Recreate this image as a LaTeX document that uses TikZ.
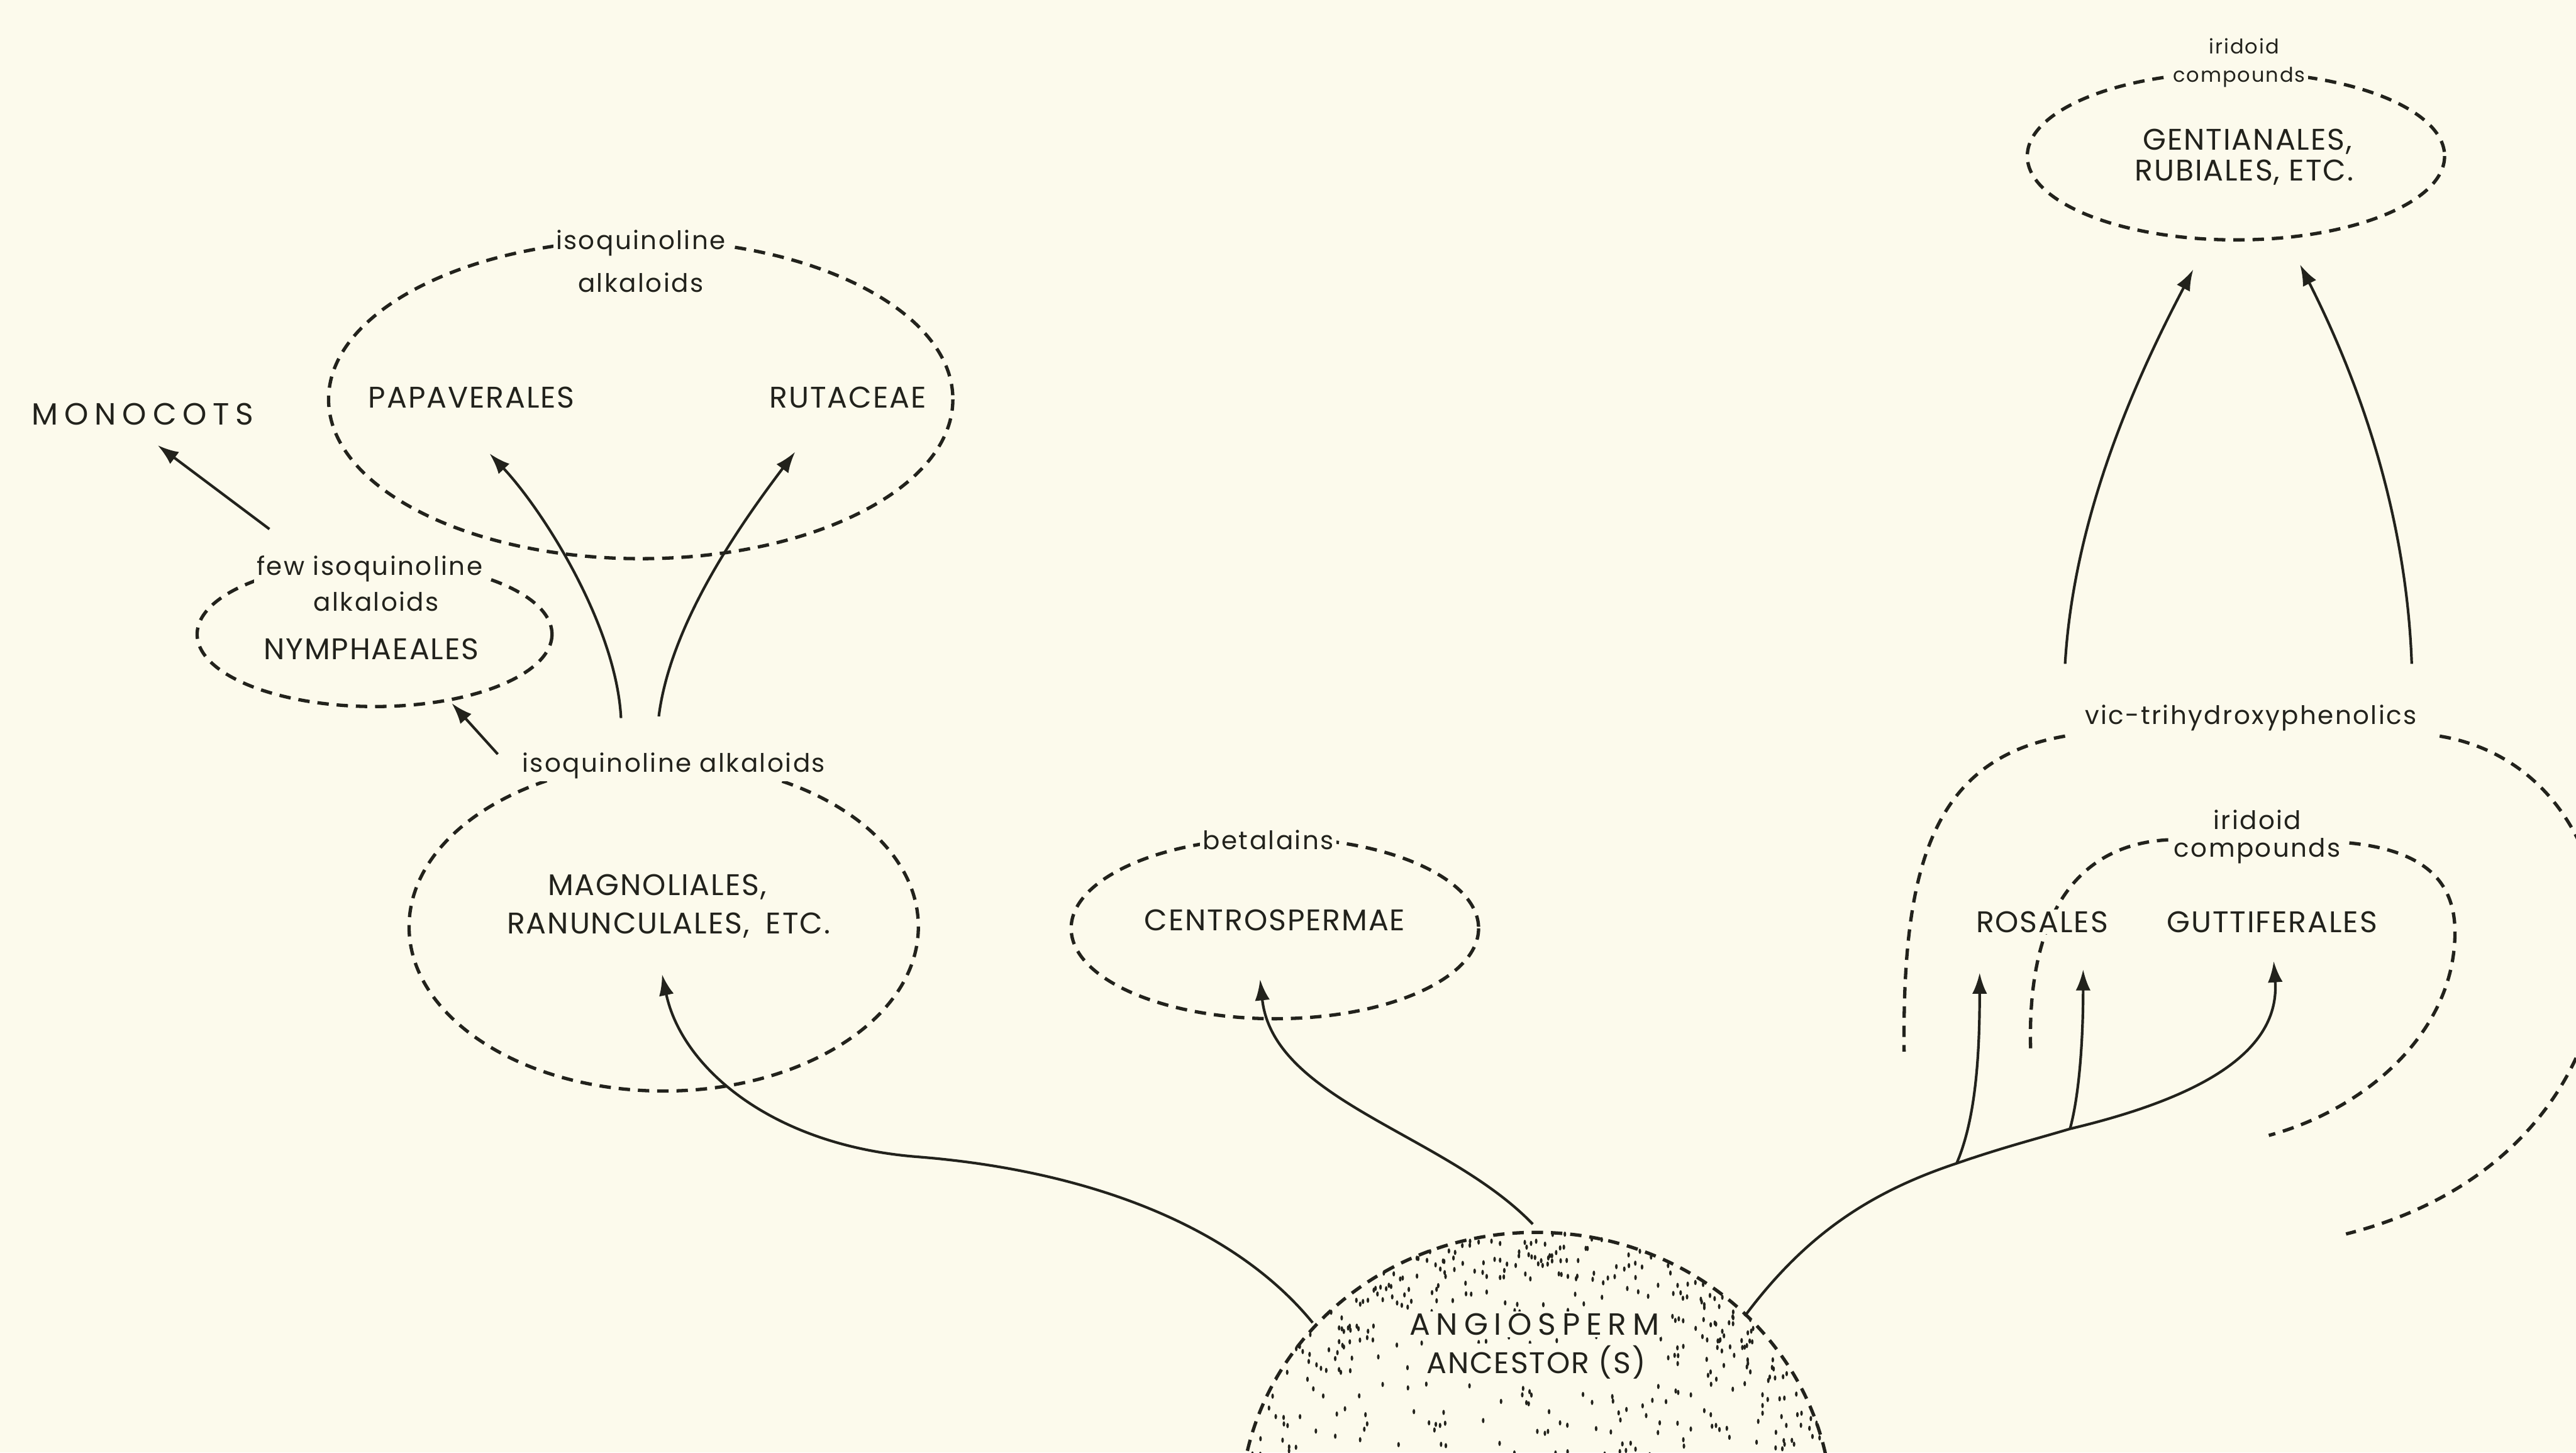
\documentclass[tikz,border=0pt]{standalone}
\usepackage{fontspec}
\setmainfont{Poppins}
\newfontfamily\capfont[LetterSpace=4]{Poppins}
\newfontfamily\labfont[LetterSpace=6]{Poppins}
\newfontfamily\widefont[LetterSpace=20]{Poppins}
\usetikzlibrary{arrows.meta}
\definecolor{bg}{RGB}{252,250,236}
\definecolor{ink}{RGB}{34,34,28}
\tikzset{
  caps/.style={font=\capfont\fontsize{17}{19}\selectfont, text=ink, inner sep=1pt},
  widecaps/.style={font=\widefont\fontsize{17.5}{19}\selectfont, text=ink, inner sep=1pt},
  lab/.style={font=\labfont\fontsize{14.5}{16}\selectfont, text=ink, inner sep=1.5pt},
  smalllab/.style={font=\labfont\fontsize{11.5}{13}\selectfont, text=ink, inner sep=1.5pt},
  mask/.style={fill=bg},
  dsh/.style={draw=ink, line width=1.9pt, dash pattern=on 6.5pt off 4.5pt},
  arr/.style={draw=ink, line width=1.5pt, -{Latex[length=12pt,width=8.5pt]}},
}
\begin{document}
\begin{tikzpicture}[x=0.032914cm, y=-0.032914cm]
\fill[bg] (0,0) rectangle (1568,884);
\useasboundingbox (0,0) rectangle (1568,884);

% ---------- ancestor dome ----------
\pgfmathsetseed{11}
\begin{scope}
\clip (700,740) rectangle (1170,884);
\draw[dsh] (935,920) ellipse [x radius=180, y radius=170];
\foreach \i in {1,...,270}{
  \pgfmathsetmacro{\s}{1-0.16*rnd}
  \pgfmathsetmacro{\a}{8+164*rnd}
  \fill[ink] ({935+\s*180*cos(\a)},{920-\s*170*sin(\a)}) ellipse [x radius=0.75pt, y radius=1.5pt];
}
\foreach \i in {1,...,240}{
  \pgfmathsetmacro{\s}{0.86*sqrt(rnd)}
  \pgfmathsetmacro{\a}{180*rnd}
  \fill[ink] ({935+\s*180*cos(\a)},{920-\s*170*sin(\a)}) ellipse [x radius=0.75pt, y radius=1.5pt];
}
\end{scope}
\node[widecaps, mask] (angio) at (934,806) {ANGIOSPERM};
\node[caps, mask] (ancestor) at (935,829) {ANCESTOR (S)};

% ---------- left group ----------
\node[widecaps] (monocots) at (87,252) {MONOCOTS};

\draw[dsh] (390,243) ellipse [x radius=190, y radius=97];
\node[lab, mask] (iso1) at (390,148) {isoquinoline};
\node[lab] (iso1b) at (390,172) {alkaloids};
\node[caps] (papav) at (287,242) {PAPAVERALES};
\node[caps] (ruta) at (516,242) {RUTACEAE};

\draw[dsh] (228,386) ellipse [x radius=108, y radius=44];
\node[lab, mask] (few) at (225,346) {few isoquinoline};
\node[lab] (few2) at (229,366) {alkaloids};
\node[caps] (nymph) at (226,395) {NYMPHAEALES};

\draw[dsh] (404,564) ellipse [x radius=155, y radius=100];
\node[lab, mask] (iso2) at (410,466) {isoquinoline alkaloids};
\node[caps] (magn1) at (400,540) {MAGNOLIALES,};
\node[caps] (magn2) at (407,563) {RANUNCULALES,\hspace{0.25em} ETC.};

\draw[dsh] (776,565) ellipse [x radius=124, y radius=55];
\node[lab, mask] (beta) at (772,511) {betalains};
\node[caps] (centro) at (776,560) {CENTROSPERMAE};

% ---------- right group ----------
\draw[dsh] (1361,95) ellipse [x radius=127, y radius=51];
\node[smalllab, mask] (irid1) at (1366,28) {iridoid};
\node[smalllab, mask, inner ysep=3pt] (cmp1) at (1363,47) {compounds};
\node[caps] (gent1) at (1368,86) {GENTIANALES,};
\node[caps] (gent2) at (1366,105) {RUBIALES, ETC.};

\node[lab] (vic) at (1370,437) {vic-trihydroxyphenolics};
\draw[dsh] (1257,448) .. controls (1175,462) and (1158,530) .. (1159,640);
\draw[dsh] (1485,448) .. controls (1620,470) and (1630,700) .. (1428,751);

\node[lab] (irid2a) at (1374,499) {iridoid};
\node[lab] (irid2b) at (1374,518) {compounds};
\draw[dsh] (1236,638) .. controls (1234,560) and (1262,513) .. (1322,511);
\draw[dsh] (1430,513) .. controls (1480,518) and (1497,540) .. (1494,575) .. controls (1490,630) and (1440,675) .. (1381,691);
\node[caps, mask] (rosales) at (1243,561) {ROSALES};
\node[caps] (gutti) at (1383,561) {GUTTIFERALES};

% ---------- connectors ----------
\coordinate (mono-s) at (164,322);
\coordinate (mono-e) at (96,271);
\draw[arr] (mono-s) -- (mono-e);

\coordinate (nym-s) at (303,459);
\coordinate (nym-e) at (275,428);
\draw[arr] (nym-s) -- (nym-e);

\coordinate (pap-s) at (378,437);
\coordinate (pap-e) at (298,276);
\draw[arr] (pap-s) .. controls (375,380) and (330,310) .. (pap-e);
\coordinate (rut-s) at (401,436);
\coordinate (rut-e) at (484,275);
\draw[arr] (rut-s) .. controls (408,380) and (450,320) .. (rut-e);

\coordinate (mag-s) at (799,805);
\coordinate (mag-m) at (558,704);
\coordinate (mag-e) at (403,593);
\draw[arr] (mag-s) .. controls (750,745) and (660,712) .. (mag-m) .. controls (470,697) and (415,650) .. (mag-e);

\coordinate (cen-s) at (933,745);
\coordinate (cen-e) at (767,596);
\draw[arr] (cen-s) .. controls (880,690) and (775,670) .. (cen-e);

\coordinate (rt-s) at (1062,801);
\coordinate (fork1) at (1191,708);
\coordinate (fork2) at (1260,687);
\coordinate (gut-e) at (1384,585);
\coordinate (ros1-e) at (1205,592);
\coordinate (ros2-e) at (1268,590);
\draw[arr] (rt-s) .. controls (1100,750) and (1140,725) .. (fork1) .. controls (1220,698) and (1240,693) .. (fork2) .. controls (1340,668) and (1388,640) .. (gut-e);
\draw[arr] (fork1) .. controls (1203,680) and (1205,640) .. (ros1-e);
\draw[arr] (fork2) .. controls (1266,665) and (1268,630) .. (ros2-e);

\coordinate (g1-s) at (1257,404);
\coordinate (g1-e) at (1335,164);
\coordinate (g2-s) at (1468,404);
\coordinate (g2-e) at (1400,161);
\draw[arr] (g1-s) .. controls (1262,320) and (1295,240) .. (g1-e);
\draw[arr] (g2-s) .. controls (1465,320) and (1440,240) .. (g2-e);
\end{tikzpicture}
\end{document}
